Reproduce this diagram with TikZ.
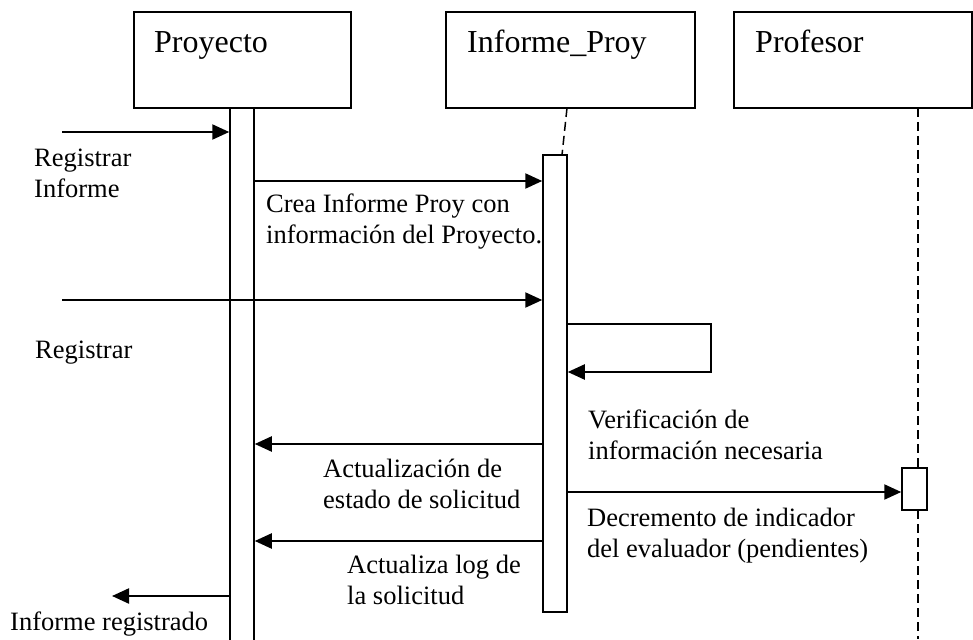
\documentclass[tikz,border=0pt]{standalone}
\usepackage{fontspec}
\setmainfont{Liberation Serif}
\usetikzlibrary{arrows.meta}
\begin{document}
\begin{tikzpicture}[x=1pt,y=-1pt,
  objbox/.style={draw, line width=1.5pt, inner sep=0pt, minimum height=96pt},
  actbar/.style={draw, line width=1.5pt, inner sep=0pt},
  msg/.style={line width=2.2pt, -{Triangle[length=17pt,width=15pt]}},
  lifeline/.style={line width=1.5pt, dash pattern=on 9pt off 5pt},
  lbl/.style={font=\fontsize{26.5}{30.5}\selectfont, anchor=base west, inner sep=0pt, align=left},
  ttl/.style={font=\fontsize{32}{38}\selectfont, anchor=base west, inner sep=0pt}]
\useasboundingbox (0,0) rectangle (973,639);

% object boxes
\node[objbox, minimum width=217pt] (pbox) at (242.5,60) {};
\node[objbox, minimum width=249pt] (ibox) at (570.5,60) {};
\node[objbox, minimum width=238pt] (fbox) at (853,60) {};
\node[ttl] (ptitle) at (154,53) {Proyecto};
\node[ttl] (ititle) at (467,53) {Informe\_Proy};
\node[ttl] (ftitle) at (755,53) {Profesor};

% activation bars
\node[actbar, minimum width=24pt, minimum height=537pt] (pbar) at (242,376.5) {};
\node[actbar, minimum width=24pt, minimum height=457pt] (ibar) at (555,383.5) {};
\node[actbar, minimum width=25pt, minimum height=42pt] (fbar) at (914.5,489) {};

% lifelines
\coordinate (il0) at (567,108);
\coordinate (il1) at (562,155);
\draw[lifeline] (il0) -- (il1);
\coordinate (fl0) at (918,108);
\coordinate (fl1) at (918,468);
\coordinate (fl2) at (918,510);
\coordinate (fl3) at (918,639);
\draw[lifeline] (fl0) -- (fl1);
\draw[lifeline] (fl2) -- (fl3);

% message levels
\coordinate (m1) at (62,132);
\coordinate (y2) at (0,181);
\coordinate (m3) at (62,300);
\coordinate (y4a) at (0,324);
\coordinate (y4b) at (0,372);
\coordinate (s1) at (711,324);
\coordinate (s2) at (711,372);
\coordinate (y6) at (0,444);
\coordinate (y7) at (0,492);
\coordinate (y8) at (0,541);
\coordinate (m9) at (112,596);

\draw[msg] (m1) -- (m1 -| pbar.west);
\draw[msg] (pbar.east |- y2) -- (ibar.west |- y2);
\draw[msg] (m3) -- (m3 -| ibar.west);
\draw[msg] (ibar.east |- y4a) -- (s1) -- (s2) -- (ibar.east |- y4b);
\draw[msg] (ibar.west |- y6) -- (pbar.east |- y6);
\draw[msg] (ibar.east |- y7) -- (fbar.west |- y7);
\draw[msg] (ibar.west |- y8) -- (pbar.east |- y8);
\draw[msg] (pbar.west |- m9) -- (m9);

% labels (anchor = baseline of last line)
\node[lbl] (l1) at (34,197) {Registrar\\Informe};
\node[lbl] (l2) at (266,243) {Crea Informe Proy con\\información del Proyecto.};
\node[lbl] (l3) at (35,358) {Registrar};
\node[lbl] (l5) at (588,459) {Verificación de\\información necesaria};
\node[lbl] (l6) at (323,508) {Actualización de\\estado de solicitud};
\node[lbl] (l7) at (587,557) {Decremento de indicador\\del evaluador (pendientes)};
\node[lbl] (l8) at (347,604) {Actualiza log de\\la solicitud};
\node[lbl] (l9) at (10,630) {Informe registrado};
\end{tikzpicture}
\end{document}
